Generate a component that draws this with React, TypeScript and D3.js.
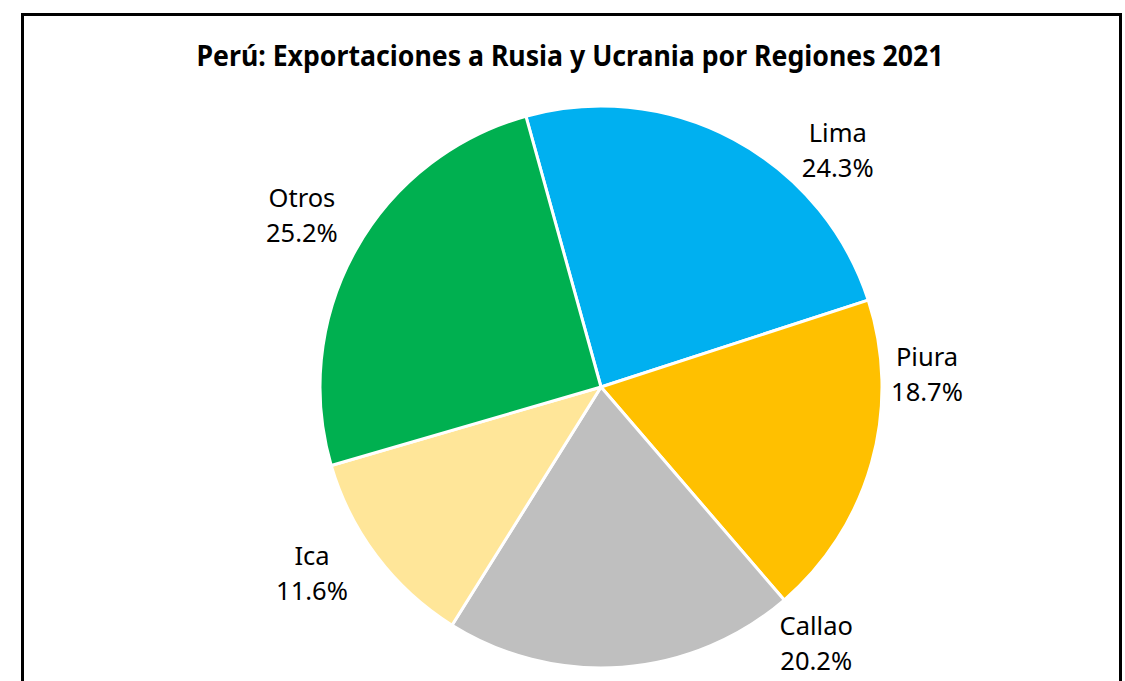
import React from "react";
import * as d3 from "d3";

const title = "Perú: Exportaciones a Rusia y Ucrania por Regiones 2021";
const regions = ["Lima", "Piura", "Callao", "Ica", "Otros"];
const shares = [24.3, 18.7, 20.2, 11.6, 25.2];
const colors = ["#00B0F0", "#FFC000", "#BFBFBF", "#FFE699", "#00B050"];

// label placement (polar, degrees clockwise from 12 o'clock, distance from centre)
const labelAngles = [46.2, 89.5, 141, 235.9, 298.4];
const labelDists = [328, 326, 342, 349, 340];

export default function App() {
  const W = 1125;
  const H = 681;
  const cx = 601;
  const cy = 387;
  const r = 281;
  const startDeg = -15.5;

  const pie = d3
    .pie<number>()
    .sort(null)
    .value((d) => d)
    .startAngle((startDeg * Math.PI) / 180)
    .endAngle(((startDeg + 360) * Math.PI) / 180);
  const arcs = pie(shares);
  const arc = d3.arc<d3.PieArcDatum<number>>().innerRadius(0).outerRadius(r);

  const font = "'Noto Sans', 'Open Sans', sans-serif";

  return (
    <svg
      width={W}
      height={H}
      style={{ position: "absolute", left: 0, top: 0, background: "#fff" }}
    >
      <rect x={0} y={0} width={W} height={H} fill="#fff" />
      <rect
        x={22.5}
        y={14.5}
        width={1098}
        height={720}
        fill="#fff"
        stroke="#000"
        strokeWidth={3}
      />
      <text
        x={570}
        y={66}
        textAnchor="middle"
        fontFamily={font}
        fontWeight="bold"
        fontSize={28}
        textLength={747}
        lengthAdjust="spacingAndGlyphs"
        fill="#000"
      >
        {title}
      </text>
      <g transform={`translate(${cx},${cy})`}>
        {arcs.map((a, i) => (
          <path
            key={regions[i]}
            d={arc(a) as string}
            fill={colors[i]}
            stroke="#fff"
            strokeWidth={3}
            strokeLinejoin="round"
          />
        ))}
        {arcs.map((a, i) => {
          const ang = (labelAngles[i] * Math.PI) / 180;
          const x = Math.sin(ang) * labelDists[i];
          const y = -Math.cos(ang) * labelDists[i];
          return (
            <text
              key={"l" + regions[i]}
              x={x}
              textAnchor="middle"
              fontFamily={font}
              fontSize={25.5}
              fill="#000"
            >
              <tspan x={x} y={y - 18}>
                {regions[i]}
              </tspan>
              <tspan x={x} y={y + 17}>
                {shares[i].toFixed(1) + "%"}
              </tspan>
            </text>
          );
        })}
      </g>
    </svg>
  );
}
